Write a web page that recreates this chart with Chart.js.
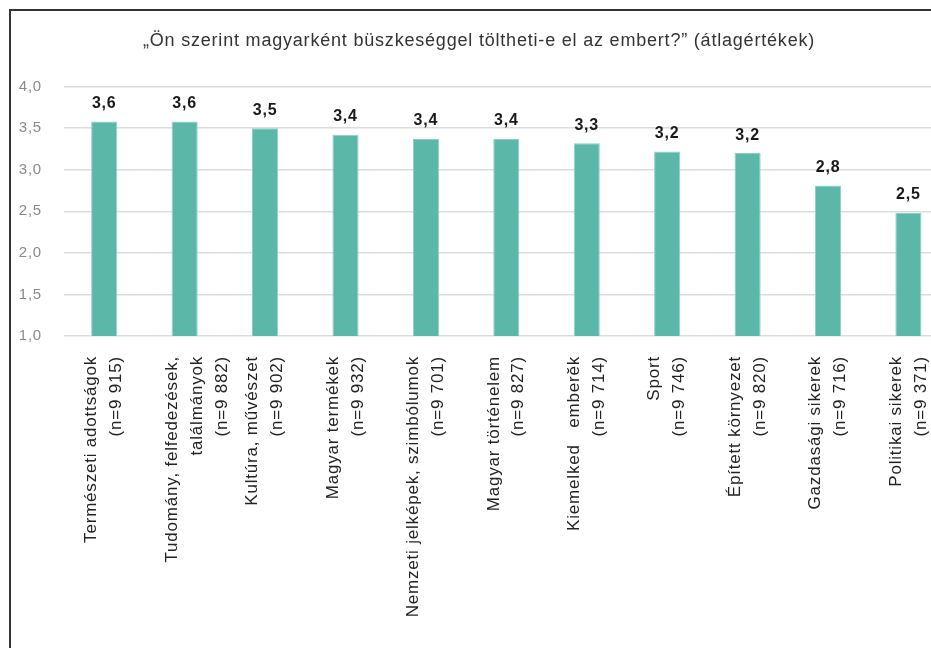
<!DOCTYPE html>
<html>
<head>
<meta charset="utf-8">
<script src="https://cdn.jsdelivr.net/npm/chart.js@4"></script>
<style>
  html, body { margin: 0; padding: 0; background: #fff; overflow: hidden; }
  #wrap { position: absolute; left: 0; top: 0; width: 971px; height: 648px; }
  #frame { position: absolute; left: 9px; top: 9px; width: 980px; height: 700px;
           border-left: 2px solid #333; border-top: 2px solid #333; pointer-events: none; }
</style>
</head>
<body>
<div id="wrap"><canvas id="bar-chart" width="971" height="648"></canvas></div>
<div id="frame"></div>
<script>
// categories (two or three lines each, as on the picture)
var categories = [
  ["Természeti adottságok", "(n=9 915)"],
  ["Tudomány, felfedezések,", "találmányok", "(n=9 882)"],
  ["Kultúra, művészet", "(n=9 902)"],
  ["Magyar termékek", "(n=9 932)"],
  ["Nemzeti jelképek, szimbólumok", "(n=9 701)"],
  ["Magyar történelem", "(n=9 827)"],
  ["Kiemelked   emberĕk", "(n=9 714)"],
  ["Sport", "(n=9 746)"],
  ["Épített környezet", "(n=9 820)"],
  ["Gazdasági sikerek", "(n=9 716)"],
  ["Politikai sikerek", "(n=9 371)"]
];

// mean values
var averages = [3.58, 3.58, 3.50, 3.42, 3.37, 3.37, 3.32, 3.22, 3.20, 2.81, 2.48];

// y axis
var yTicks = [1.0, 1.5, 2.0, 2.5, 3.0, 3.5, 4.0];

var titleText = "„Ön szerint magyarként büszkeséggel töltheti-e el az embert?” (átlagértékek)";

var FONT = "'Liberation Sans', Arial, sans-serif";

function huNum(v) {
  return v.toFixed(1).replace(".", ",");
}

// the original text is set a bit looser than Arial
var spacing = {
  id: "spacing",
  beforeLayout: function(chart) { chart.ctx.letterSpacing = "0.8px"; },
  beforeDraw: function(chart) { chart.ctx.letterSpacing = "0.8px"; }
};

// value labels above the bars
var valueLabels = {
  id: "valueLabels",
  afterDatasetsDraw: function(chart) {
    var ctx = chart.ctx;
    var meta = chart.getDatasetMeta(0);
    ctx.save();
    ctx.font = "bold 16px " + FONT;
    ctx.fillStyle = "#1a1a1a";
    ctx.textAlign = "center";
    ctx.textBaseline = "middle";
    meta.data.forEach(function(bar, i) {
      ctx.fillText(huNum(averages[i]), bar.x, bar.y - 18);
    });
    ctx.restore();
  }
};

var ctx = document.getElementById("bar-chart").getContext("2d");
new Chart(ctx, {
  type: "bar",
  data: {
    labels: categories,
    datasets: [{
      data: averages,
      backgroundColor: "#5bb8a9",
      borderColor: "#8fd0c4",
      borderWidth: 1,
      barPercentage: 0.325,
      categoryPercentage: 1
    }]
  },
  options: {
    responsive: false,
    animation: false,
    layout: { padding: { left: 0, right: 13, top: 0, bottom: 0 } },
    plugins: {
      legend: { display: false },
      tooltip: { enabled: false },
      title: {
        display: true,
        text: titleText,
        color: "#333",
        font: { family: FONT, size: 18, weight: "normal" },
        padding: { top: 30, bottom: 35 }
      }
    },
    scales: {
      x: {
        grid: { display: false },
        border: { display: false },
        ticks: {
          color: "#222",
          font: { family: FONT, size: 17, lineHeight: 1.47 },
          minRotation: 90,
          maxRotation: 90,
          autoSkip: false,
          padding: 12,
          labelOffset: -12.5
        },
        afterFit: function(scale) { scale.height = 312; }
      },
      y: {
        min: 1,
        max: 4,
        afterBuildTicks: function(scale) {
          scale.ticks = yTicks.map(function(v) { return { value: v }; });
        },
        grid: { color: "#dcdcdc", lineWidth: 1.5, drawTicks: false },
        border: { display: false },
        ticks: {
          color: "#8a8a8a",
          font: { family: FONT, size: 15 },
          padding: 22,
          callback: function(v) { return huNum(v); }
        },
        afterFit: function(scale) { scale.width = 64; }
      }
    }
  },
  plugins: [spacing, valueLabels]
});
</script>
</body>
</html>
